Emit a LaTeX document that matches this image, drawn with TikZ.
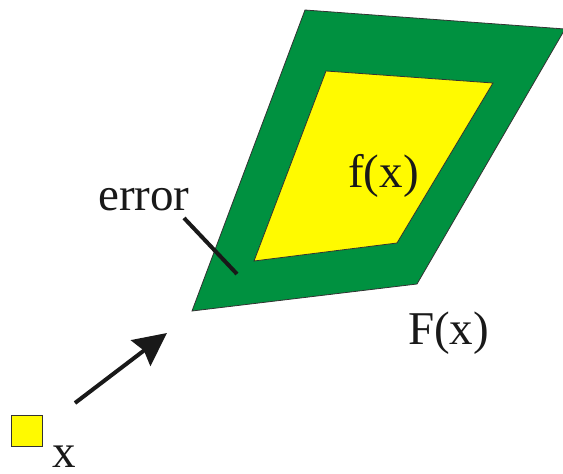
\documentclass[tikz,border=0pt]{standalone}
\usepackage{fontspec}
\setmainfont{Liberation Serif}
\usetikzlibrary{arrows.meta}
\definecolor{dgreen}{RGB}{0,145,64}
\definecolor{yel}{RGB}{255,250,0}
\tikzset{
  lbl/.style={inner sep=0pt, anchor=base west, font=\fontsize{47}{50}\selectfont, text=black!90},
  region/.style={draw=black!80, line width=0.8pt, line join=miter},
}
\begin{document}
\begin{tikzpicture}[x=1pt,y=-1pt]
\useasboundingbox (0,0) rectangle (563,474);
\begin{scope}
\clip (0,0) rectangle (563,474);
% outer region F(x)
\draw[region, fill=dgreen] (305,10) -- (565,29) -- (417,284) -- (192,311) -- cycle;
\end{scope}
% inner region f(x)
\draw[region, fill=yel] (326,71) -- (493,83) -- (397,243) -- (254,261) -- cycle;
% labels
\node[lbl] (fx) at (348,187) {f(x)};
\node[lbl] (Fx) at (408,344) {F(x)};
\node[lbl] (err) at (98,210) {error};
\node[lbl] (xl) at (52,467) {x};
% error pointer
\coordinate (e1) at (184,218);
\coordinate (e2) at (237,274);
\draw[line width=4pt, black!90] (e1) -- (e2);
% input square
\node[draw=black!80, line width=0.8pt, fill=yel, minimum size=31pt, inner sep=0pt] (sq) at (26.5,430.5) {};
% arrow
\coordinate (a1) at (75,403);
\coordinate (a2) at (167,333);
\draw[line width=4pt, black!90, -{Stealth[length=33pt,width=32pt,inset=4pt]}] (a1) -- (a2);
\end{tikzpicture}
\end{document}
